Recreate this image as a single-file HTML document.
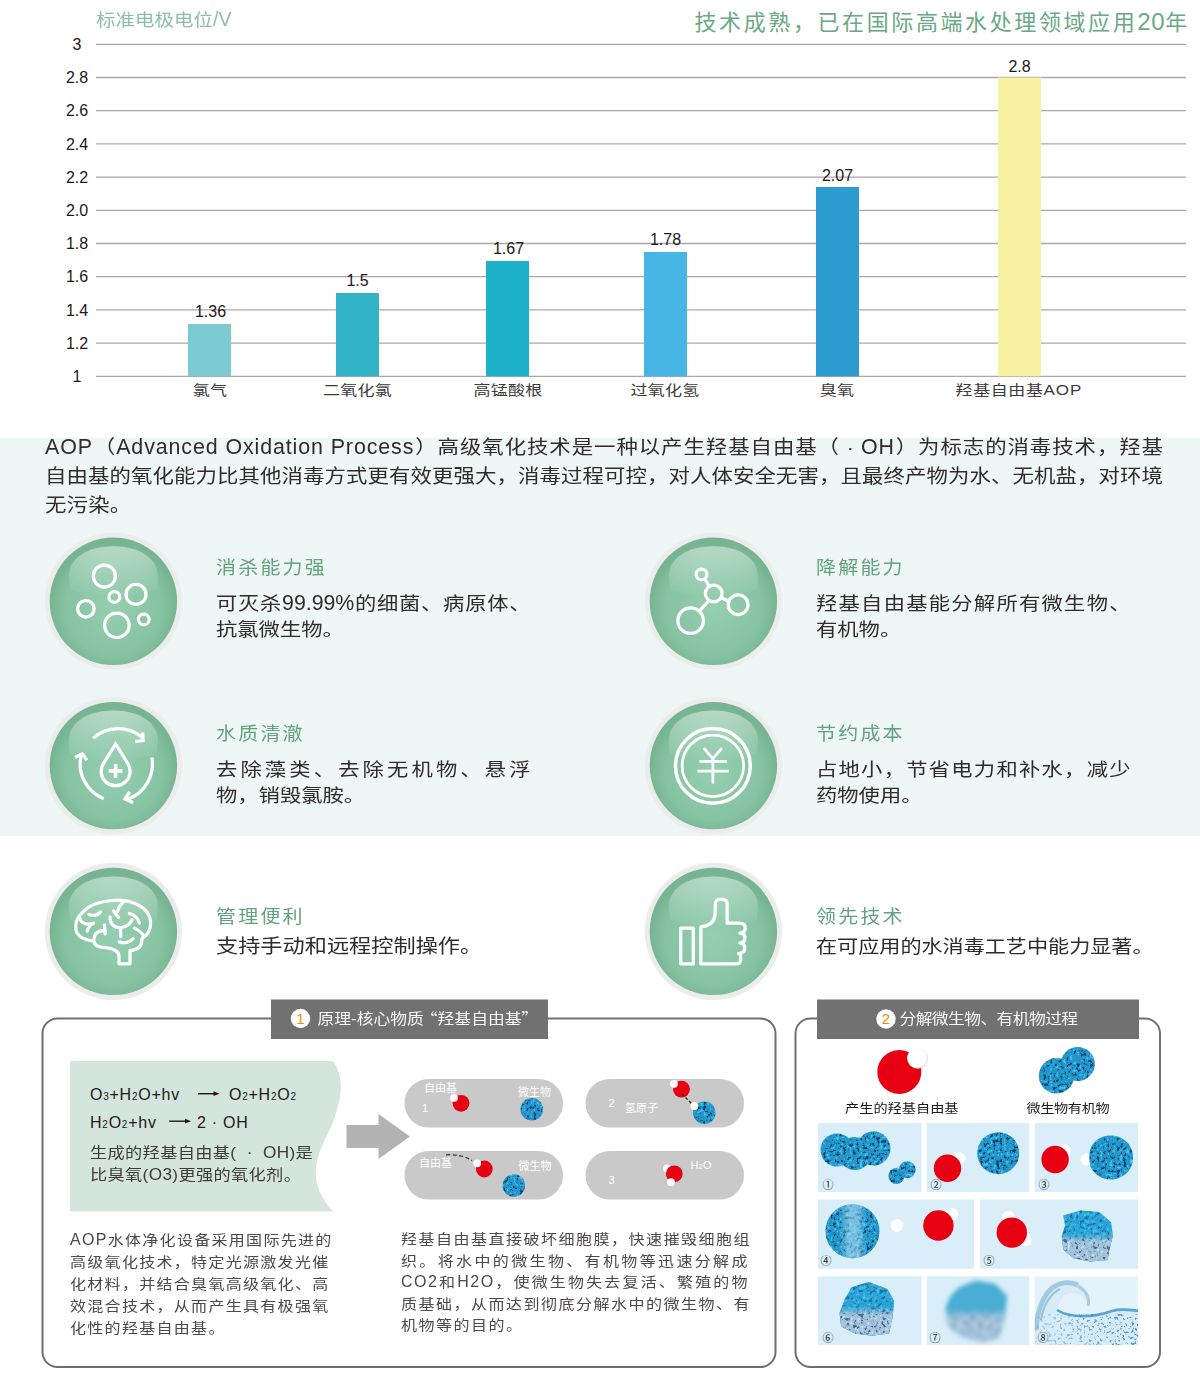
<!DOCTYPE html>
<html lang="zh-CN">
<head>
<meta charset="utf-8">
<title>AOP</title>
<style>
*{margin:0;padding:0;box-sizing:border-box}
html,body{width:1200px;height:1383px;overflow:hidden;background:#fff}
body{position:relative;font-family:"Liberation Sans","Noto Sans CJK SC",sans-serif;color:#3e3a39}
.abs{position:absolute}
.sq{position:absolute;transform:scaleY(0.88);transform-origin:0 0;white-space:nowrap}
.u{display:inline-block;line-height:1em;transform:scaleY(1.1364);transform-origin:0 0.8465em}
.j{text-align:justify;text-align-last:justify}
.l{text-align:left;text-align-last:left}
.band{position:absolute;left:0;top:438px;width:1200px;height:398px;background:#eef7f5}
.para{left:45px;width:1118px;font-size:21.4px;line-height:32.955px;color:#302c2b}
.para div{text-align:justify;text-align-last:justify}
.para div.l{text-align-last:left;letter-spacing:0.2px}
.para .u{letter-spacing:0.9px}
.ttl{font-size:20px;line-height:24px;color:#62a27f;letter-spacing:2.2px;transform:scaleY(0.92)}
.fb{line-height:28.977px;color:#302c2b}
.cq{font-family:'Noto Sans CJK SC',sans-serif}
.tab{font-size:16.8px;line-height:20px;color:#f7f7f7}
.num{position:absolute;font-size:15px;line-height:16px;color:#f08c00;text-align:center;width:20px}
.eq{position:absolute;font-size:16px;line-height:20px;color:#231815;white-space:nowrap;letter-spacing:0.75px}
.eq sub{font-size:10px;vertical-align:baseline}
.cn{font-size:17.2px;line-height:24.659px;color:#3e3a39;letter-spacing:0.35px}
.p1{font-size:16px;line-height:25.000px;color:#4c4948;letter-spacing:1.3px}
.p2{font-size:16px;line-height:24.545px;color:#4c4948;letter-spacing:1.5px}
.p1 div,.p2 div{text-align:justify;text-align-last:justify}
.p1 div.l,.p2 div.l{text-align-last:left}
.pl{position:absolute;font-size:11px;line-height:12px;color:#fff;white-space:nowrap}
.lbl{font-size:14.2px;line-height:16px;color:#1e1a19}
.tn{position:absolute;font-size:11px;line-height:11px;color:#222;font-family:"Noto Sans CJK SC",sans-serif}
</style>
</head>
<body>

<svg class="abs" style="left:0;top:0" width="1200" height="420" viewBox="0 0 1200 420">
<g stroke="#a9a9a9" stroke-width="1.3"><line x1="96" x2="1186" y1="44.3" y2="44.3"/><line x1="96" x2="1186" y1="77.5" y2="77.5"/><line x1="96" x2="1186" y1="110.7" y2="110.7"/><line x1="96" x2="1186" y1="143.9" y2="143.9"/><line x1="96" x2="1186" y1="177.1" y2="177.1"/><line x1="96" x2="1186" y1="210.3" y2="210.3"/><line x1="96" x2="1186" y1="243.5" y2="243.5"/><line x1="96" x2="1186" y1="276.7" y2="276.7"/><line x1="96" x2="1186" y1="309.9" y2="309.9"/><line x1="96" x2="1186" y1="343.1" y2="343.1"/><line x1="96" x2="1186" y1="376.3" y2="376.3"/></g>
<g font-family="Liberation Sans, sans-serif" font-size="16" fill="#231815" text-anchor="middle"><text x="77" y="49.9">3</text><text x="77" y="83.1">2.8</text><text x="77" y="116.3">2.6</text><text x="77" y="149.5">2.4</text><text x="77" y="182.7">2.2</text><text x="77" y="215.9">2.0</text><text x="77" y="249.1">1.8</text><text x="77" y="282.3">1.6</text><text x="77" y="315.5">1.4</text><text x="77" y="348.7">1.2</text><text x="77" y="381.9">1</text></g>
<rect x="188" y="324" width="43" height="52.3" fill="#7ccbd3"/><rect x="336" y="293" width="43" height="83.3" fill="#33b3c8"/><rect x="486" y="261" width="43" height="115.3" fill="#1cb0c9"/><rect x="644" y="252" width="43" height="124.3" fill="#48b6e4"/><rect x="816" y="187" width="43" height="189.3" fill="#2b9bd0"/><rect x="998" y="77.5" width="43" height="298.8" fill="#f8f1a4"/>
<g font-family="Liberation Sans, sans-serif" font-size="16" fill="#231815" text-anchor="middle"><text x="210.5" y="317">1.36</text><text x="357.5" y="286">1.5</text><text x="508.5" y="254">1.67</text><text x="665.5" y="245">1.78</text><text x="837.5" y="180.5">2.07</text><text x="1019.5" y="71.5">2.8</text></g>
<g font-family="Liberation Sans, Noto Sans CJK SC, sans-serif" font-size="17" letter-spacing="0.2" fill="#3e3a39" text-anchor="middle"><text transform="translate(210,395.2) scale(1,0.83)">氯气</text><text transform="translate(357.5,395.2) scale(1,0.83)">二氧化氯</text><text transform="translate(508,395.2) scale(1,0.83)">高锰酸根</text><text transform="translate(665,395.2) scale(1,0.83)">过氧化氢</text><text transform="translate(837,395.2) scale(1,0.83)">臭氧</text><text transform="translate(1019,395.2) scale(1,0.83)" letter-spacing="0.6">羟基自由基<tspan font-size="17" letter-spacing="1">AOP</tspan></text></g>
</svg>
<div class="sq" style="left:96px;top:9.5px;font-size:19.5px;line-height:22px;letter-spacing:0px;color:#8cc0a5">标准电极电位<span class="u">/V</span></div>
<div class="abs" style="left:694.5px;top:9px;font-size:22px;line-height:26px;letter-spacing:2.6px;color:#6aa985;white-space:nowrap">技术成熟，已在国际高端水处理领域应用<span style="font-size:24px;letter-spacing:0.6px">20</span>年</div>


<div class="band"></div>
<div class="sq para" style="top:434px">
<div><span class="u">AOP</span>（<span class="u">Advanced Oxidation Process</span>）高级氧化技术是一种以产生羟基自由基（ · <span class="u">OH</span>）为标志的消毒技术，羟基</div>
<div>自由基的氧化能力比其他消毒方式更有效更强大，消毒过程可控，对人体安全无害，且最终产物为水、无机盐，对环境</div>
<div class="l">无污染。</div>
</div>

<div class="sq ttl" style="left:216px;top:556.5px">消杀能力强</div>
<div class="sq fb" style="left:216px;top:591.7px;width:314.5px;font-size:21.3px"><div class="j">可灭杀<span class="u">99.99%</span>的细菌、病原体、</div><div class="l">抗氯微生物。</div></div>
<div class="sq ttl" style="left:816px;top:556.5px">降解能力</div>
<div class="sq fb" style="left:816px;top:591.7px;width:314.5px;font-size:21.3px"><div class="j">羟基自由基能分解所有微生物、</div><div class="l">有机物。</div></div>
<div class="sq ttl" style="left:216px;top:722.8px">水质清澈</div>
<div class="sq fb" style="left:216px;top:758px;width:314.5px;font-size:21.3px"><div class="j">去除藻类、去除无机物、悬浮</div><div class="l">物，销毁氯胺。</div></div>
<div class="sq ttl" style="left:816px;top:722.8px">节约成本</div>
<div class="sq fb" style="left:816px;top:758px;width:314.5px;font-size:21.3px"><div class="j">占地小，节省电力和补水，减少</div><div class="l">药物使用。</div></div>
<div class="sq ttl" style="left:216px;top:905.5px">管理便利</div>
<div class="sq fb" style="left:216px;top:935px;width:400px;font-size:22.2px"><div class="l">支持手动和远程控制操作。</div></div>
<div class="sq ttl" style="left:816px;top:905.5px">领先技术</div>
<div class="sq fb" style="left:816px;top:935px;width:400px;font-size:21.1px"><div class="l">在可应用的水消毒工艺中能力显著。</div></div>

<!-- ICONS -->
<svg class="abs" style="left:0;top:0" width="1200" height="1383" viewBox="0 0 1200 1383">
<defs>
<radialGradient id="disc" cx="0.5" cy="0.55" r="0.5">
<stop offset="0" stop-color="#95cfb1"/>
<stop offset="0.75" stop-color="#86c3a2"/>
<stop offset="1" stop-color="#77b592"/>
</radialGradient>
<linearGradient id="gloss" x1="0" y1="0" x2="0" y2="1">
<stop offset="0" stop-color="#fff" stop-opacity="0.45"/>
<stop offset="0.6" stop-color="#fff" stop-opacity="0.17"/>
<stop offset="1" stop-color="#fff" stop-opacity="0.02"/>
</linearGradient>
<g id="ball">
<circle cx="0" cy="0" r="68.6" fill="#ececec"/>
<circle cx="0" cy="0" r="63.7" fill="url(#disc)"/>
<path d="M-44.5 -24 C-45 -43 -26 -55 0 -55 C26 -55 45 -43 44.5 -24 L43.5 -12 C30 -4 -30 -4 -43.5 -12 Z" fill="url(#gloss)"/>
</g>
</defs>
<use href="#ball" x="113.4" y="601.3"/>
<use href="#ball" x="713.4" y="601.3"/>
<use href="#ball" x="113.4" y="765.6"/>
<use href="#ball" x="713.4" y="765.6"/>
<use href="#ball" x="113.4" y="931.4"/>
<use href="#ball" x="713.4" y="931.4"/>
<g fill="none" stroke="#fff" stroke-width="26" stroke-linecap="butt" stroke-linejoin="miter">
<!-- bubbles -->
<g transform="translate(40,530) scale(0.125)">
<circle cx="515" cy="368" r="88"/>
<circle cx="595" cy="535" r="43"/>
<circle cx="768" cy="515" r="80"/>
<circle cx="367" cy="630" r="66"/>
<circle cx="615" cy="762" r="98"/>
<circle cx="830" cy="715" r="43"/>
</g>
<!-- molecule -->
<g transform="translate(640,530) scale(0.125)">
<circle cx="492" cy="355" r="43"/>
<circle cx="590" cy="508" r="67"/>
<circle cx="785" cy="597" r="79"/>
<circle cx="405" cy="725" r="102"/>
<path d="M520 392 L552 450 M650 540 L708 570 M545 572 L478 645"/>
</g>
<!-- water -->
<g transform="translate(40,695) scale(0.125)">
<path d="M425 345 A300 300 0 0 1 820 340"/>
<path d="M760 372 L825 365 L822 300"/>
<path d="M895 500 A300 300 0 0 1 700 835"/>
<path d="M745 862 L680 830 L718 775"/>
<path d="M510 830 A300 300 0 0 1 330 480"/>
<path d="M280 500 L338 470 L375 522"/>
<path d="M605 392 L507 549 A115.5 115.5 0 1 0 703 549 Z"/>
<path d="M550 607 L660 607 M605 552 L605 662" stroke-width="28"/>
</g>
<!-- yen -->
<g transform="translate(640,695) scale(0.125)">
<circle cx="583" cy="567" r="299" stroke-width="28"/>
<circle cx="583" cy="566" r="246" stroke-width="22"/>
<path d="M510 425 L583 510 L655 425 M583 510 L583 708 M475 530 L695 530 M460 608 L710 608" stroke-width="22"/>
</g>
<!-- brain -->
<g transform="translate(40,860) scale(0.125)" stroke-linecap="round" stroke-linejoin="round">
<path d="M430 650 C360 640 300 615 288 560 C278 505 300 460 335 425 C380 370 470 330 600 322 C720 318 820 360 865 430 C895 480 890 560 850 600 C830 620 815 610 815 640 C815 690 780 720 720 725 L720 830 L632 830 L632 770 C632 735 590 705 520 700 C460 698 435 680 432 650 C430 600 455 570 495 565 C520 565 525 580 520 590"/>
<path d="M515 520 L522 570"/>
<path d="M320 470 C330 500 360 520 410 510"/>
<path d="M378 568 C385 540 400 520 428 505"/>
<path d="M392 435 C420 450 460 445 485 415"/>
<path d="M588 408 L628 460"/>
<path d="M560 455 C560 520 600 545 650 540 C700 535 730 505 735 475"/>
<path d="M665 340 C640 360 625 385 622 410"/>
<path d="M715 428 C760 440 785 470 795 505"/>
<path d="M645 548 L645 612"/>
<path d="M635 655 C670 668 720 660 745 630"/>
<path d="M755 545 C790 560 815 585 835 612"/>
</g>
<!-- thumb -->
<g transform="translate(640,860) scale(0.125)" stroke-linejoin="round">
<rect x="326" y="544" width="100" height="287"/>
<path d="M487 535 L487 830 L770 830 Q805 830 805 795 L805 772 Q805 752 788 748 Q838 742 838 706 Q838 668 798 664 Q840 660 840 624 Q840 588 798 585 Q842 580 842 543 Q842 505 795 505 L697 505 L697 350 Q697 312 650 312 Q605 312 603 350 L600 440 Q590 525 487 535 Z"/>
</g>
</g>
</svg>
<!-- BOTTOM BOXES -->
<svg class="abs" style="left:0;top:0" width="1200" height="1383" viewBox="0 0 1200 1383">
<defs>
<filter id="foamf" x="0" y="0" width="100%" height="100%" color-interpolation-filters="sRGB">
<feTurbulence type="fractalNoise" baseFrequency="0.3" numOctaves="3" seed="4" result="n"/>
<feColorMatrix in="n" type="matrix" values="0 0 0 0 0  0 0 0 0 0  0 0 0 0 0  -7 0 0 0 3.05" result="a"/>
<feFlood flood-color="#0b4170"/>
<feComposite in2="a" operator="in" result="dark"/>
<feColorMatrix in="n" type="matrix" values="0 0 0 0 0  0 0 0 0 0  0 0 0 0 0  8 0 0 0 -4.8" result="b"/>
<feFlood flood-color="#45c3ef"/>
<feComposite in2="b" operator="in" result="light"/>
<feMerge><feMergeNode in="dark"/><feMergeNode in="light"/></feMerge>
</filter>
<filter id="foamg" x="0" y="0" width="100%" height="100%" color-interpolation-filters="sRGB">
<feTurbulence type="fractalNoise" baseFrequency="0.28" numOctaves="3" seed="9" result="n"/>
<feColorMatrix in="n" type="matrix" values="0 0 0 0 0  0 0 0 0 0  0 0 0 0 0  -7 0 0 0 2.95" result="a"/>
<feFlood flood-color="#55608c"/>
<feComposite in2="a" operator="in" result="dark"/>
<feColorMatrix in="n" type="matrix" values="0 0 0 0 0  0 0 0 0 0  0 0 0 0 0  7 0 0 0 -4.3" result="b"/>
<feFlood flood-color="#cfe4f1"/>
<feComposite in2="b" operator="in" result="light"/>
<feMerge><feMergeNode in="dark"/><feMergeNode in="light"/></feMerge>
</filter>
<filter id="speck" x="0" y="0" width="100%" height="100%" color-interpolation-filters="sRGB">
<feTurbulence type="fractalNoise" baseFrequency="0.35" numOctaves="2" seed="21" result="n"/>
<feColorMatrix in="n" type="matrix" values="0 0 0 0 0  0 0 0 0 0  0 0 0 0 0  -7 0 0 0 3.05" result="a"/>
<feFlood flood-color="#3a8fd2"/>
<feComposite in2="a" operator="in"/>
</filter>
<pattern id="foam" patternUnits="userSpaceOnUse" width="200" height="200">
<rect width="200" height="200" fill="#2396ca"/>
<rect width="200" height="200" filter="url(#foamf)"/>
</pattern>
<pattern id="foamG" patternUnits="userSpaceOnUse" width="200" height="200">
<rect width="200" height="200" fill="#9fc3da"/>
<rect width="200" height="200" filter="url(#foamg)"/>
</pattern>
<pattern id="spk" patternUnits="userSpaceOnUse" width="200" height="200">
<rect width="200" height="200" filter="url(#speck)"/>
</pattern>
<linearGradient id="fadeV" x1="0" y1="0" x2="0" y2="1">
<stop offset="0.45" stop-color="#fff" stop-opacity="0"/>
<stop offset="0.62" stop-color="#fff" stop-opacity="1"/>
</linearGradient>
<linearGradient id="bandH" x1="0" y1="0" x2="1" y2="0">
<stop offset="0.25" stop-color="#bfe9f8" stop-opacity="0"/>
<stop offset="0.45" stop-color="#bfe9f8" stop-opacity="0.55"/>
<stop offset="0.6" stop-color="#bfe9f8" stop-opacity="0.5"/>
<stop offset="0.75" stop-color="#bfe9f8" stop-opacity="0"/>
</linearGradient>
<path id="blob5" d="M1063.3 1215.5 L1080.4 1210.4 L1099.2 1212.1 L1111.1 1222.3 L1112.9 1236 L1109.4 1249.7 L1107.7 1259.9 L1090.6 1261.6 L1073.6 1258.2 L1063.3 1249.7 L1061.6 1236 L1065 1225.7 Z" stroke-linejoin="round"/>
<path id="blob6" d="M851.5 1287.2 L868.6 1282.1 L887.4 1288.9 L894.2 1300.9 L892.5 1318 L889.1 1333.4 L872 1335.7 L854.9 1333.4 L841.2 1326.5 L839.5 1312.9 L844.7 1299.2 Z"/>
<path id="blob7" d="M959.1 1287.2 L976.2 1280.4 L995 1283.8 L1007 1295.8 L1005.2 1318 L998.4 1338.5 L981.3 1341.9 L960.8 1336.8 L947.2 1324.8 L945.4 1307.7 L950.6 1295.8 Z"/>
<mask id="m5"><use href="#blob5" fill="url(#fadeV)"/></mask>
<mask id="m6"><use href="#blob6" fill="url(#fadeV)"/></mask>
<mask id="m7"><use href="#blob7" fill="url(#fadeV)"/></mask>
<clipPath id="c4"><circle cx="852.5" cy="1231.2" r="27"/></clipPath>
<clipPath id="c8"><rect x="1034.7" y="1276.3" width="103.3" height="68.7"/></clipPath>
<linearGradient id="g8" x1="0" y1="0" x2="1" y2="0"><stop offset="0" stop-color="#fff" stop-opacity="0.25"/><stop offset="0.45" stop-color="#fff" stop-opacity="0.7"/><stop offset="1" stop-color="#fff" stop-opacity="1"/></linearGradient>
<mask id="m8"><rect x="1034" y="1314" width="106" height="32" fill="url(#g8)"/></mask>
<filter id="blur7" x="-20%" y="-20%" width="140%" height="140%"><feGaussianBlur stdDeviation="2.2"/></filter>
</defs>
<!-- box outlines -->
<rect x="42.5" y="1018.5" width="733" height="348.5" rx="15" fill="none" stroke="#6f6f6f" stroke-width="2"/>
<rect x="795.5" y="1018.5" width="364.5" height="348.5" rx="15" fill="none" stroke="#6f6f6f" stroke-width="2"/>
<!-- tabs -->
<rect x="271" y="999.5" width="277" height="39.5" fill="#717171"/>
<rect x="817" y="999.5" width="322" height="39.5" fill="#717171"/>
<circle cx="300.5" cy="1018.5" r="9.7" fill="#fff"/>
<circle cx="886" cy="1019" r="9.7" fill="#fff"/>
<!-- green panel -->
<path d="M70 1061 L333 1061 C345 1078 342 1098 332 1125 C320 1150 302 1178 333 1211.5 L70 1211.5 Z" fill="#d3e5dd"/>
<!-- arrow -->
<path d="M346.5 1125 L378.5 1125 L378.5 1114 L410 1136.5 L378.5 1159 L378.5 1148 L346.5 1148 Z" fill="#b3b3b3"/>
<!-- pills -->
<g fill="#c9c9c9">
<rect x="404.5" y="1079" width="158.5" height="48.5" rx="24.25"/>
<rect x="585.5" y="1079" width="158.5" height="48.5" rx="24.25"/>
<rect x="404.5" y="1151" width="158.5" height="48.5" rx="24.25"/>
<rect x="585.5" y="1151" width="158.5" height="48.5" rx="24.25"/>
</g>
<!-- pill 1 -->
<circle cx="461" cy="1103.3" r="8.4" fill="#e60012"/>
<circle cx="454" cy="1097.8" r="3.9" fill="#fff"/>
<circle cx="531.8" cy="1109.3" r="11.3" fill="url(#foam)"/>
<!-- pill 3 -->
<path d="M446 1154.8 Q462 1154 472 1160.5" fill="none" stroke="#333" stroke-width="1.3" stroke-dasharray="4 2.5"/>
<circle cx="484.3" cy="1169" r="8.4" fill="#e60012"/>
<circle cx="477.2" cy="1163.3" r="3.9" fill="#fff"/>
<circle cx="513.8" cy="1185.5" r="11.3" fill="url(#foam)"/>
<!-- pill 2 -->
<circle cx="681.5" cy="1089.2" r="8.4" fill="#e60012"/>
<circle cx="674" cy="1083.8" r="3.9" fill="#fff"/>
<path d="M682 1094 L692 1104" fill="none" stroke="#222" stroke-width="1.3" stroke-dasharray="3 2"/>
<circle cx="704.3" cy="1112.8" r="11.3" fill="url(#foam)"/>
<circle cx="694.3" cy="1106" r="3.9" fill="#fff"/>
<!-- pill 4 -->
<circle cx="666.8" cy="1168.3" r="3.9" fill="#fff"/>
<circle cx="674.3" cy="1173.8" r="8.4" fill="#e60012"/>
<circle cx="671" cy="1182.2" r="3.9" fill="#fff"/>

<!-- box2 top figures -->
<circle cx="899.3" cy="1072" r="22" fill="#e60012"/>
<circle cx="917.6" cy="1058.5" r="10.2" fill="#d8d8d8"/>
<circle cx="917.1" cy="1058" r="10" fill="#fff"/>
<circle cx="1077.8" cy="1064" r="17" fill="url(#foam)"/>
<circle cx="1056.5" cy="1075.8" r="17.7" fill="url(#foam)"/>
<!-- tiles -->
<g fill="#d9eef9">
<rect x="818" y="1123" width="103.5" height="69"/>
<rect x="926.7" y="1123" width="102.5" height="69"/>
<rect x="1034.7" y="1123" width="103.3" height="69"/>
<rect x="818" y="1199.5" width="156" height="69.3"/>
<rect x="980" y="1199.5" width="158" height="69.3"/>
<rect x="818" y="1276.3" width="103.5" height="68.7"/>
<rect x="926.7" y="1276.3" width="102.5" height="68.7"/>
<rect x="1034.7" y="1276.3" width="103.3" height="68.7" fill="#e4f2fb"/>
</g>
<!-- tile1 -->
<circle cx="837" cy="1150" r="16.5" fill="url(#foam)"/>
<circle cx="873.5" cy="1148.5" r="17" fill="url(#foam)"/>
<circle cx="855" cy="1153.5" r="16.5" fill="url(#foam)"/>
<circle cx="907.2" cy="1169.7" r="8.5" fill="url(#foam)"/>
<circle cx="896.4" cy="1176" r="8" fill="url(#foam)"/>
<!-- tile2 -->
<circle cx="959.6" cy="1158.3" r="6" fill="#fff"/>
<circle cx="947.5" cy="1168.3" r="13.7" fill="#e60012"/>
<circle cx="998.2" cy="1153.2" r="21" fill="url(#foam)"/>
<!-- tile3 -->
<circle cx="1065" cy="1150.4" r="6" fill="#fff"/>
<circle cx="1055.1" cy="1159.5" r="13.7" fill="#e60012"/>
<circle cx="1086.3" cy="1159.5" r="6" fill="#fff"/>
<path d="M1090 1150 C1093 1140 1102 1135.5 1111 1135.5 C1123 1135.5 1133 1145 1133 1157.5 C1133 1170 1123 1179.5 1111 1179.5 C1100 1179.5 1092 1172 1090 1165 C1089 1160 1089 1155 1090 1150 Z" fill="url(#foam)"/>
<!-- tile4 -->
<circle cx="852.5" cy="1231.2" r="27" fill="url(#foam)"/>
<rect x="825" y="1204" width="55" height="55" fill="url(#bandH)" clip-path="url(#c4)"/>
<circle cx="897" cy="1225.5" r="6.3" fill="#fff"/>
<circle cx="951.7" cy="1214.2" r="6.3" fill="#fff"/>
<circle cx="938.4" cy="1225.5" r="15.2" fill="#e60012"/>
<!-- tile5 -->
<circle cx="1008.4" cy="1217" r="6.3" fill="#fff"/>
<circle cx="1025.4" cy="1239.7" r="6.3" fill="#fff"/>
<circle cx="1011.8" cy="1232.6" r="15.2" fill="#e60012"/>
<use href="#blob5" fill="url(#foam)"/>
<use href="#blob5" fill="#3cc3f0" opacity="0.35"/>
<use href="#blob5" fill="url(#foamG)" mask="url(#m5)"/>
<!-- tile6 -->
<use href="#blob6" fill="url(#foam)"/>
<use href="#blob6" fill="#3cc3f0" opacity="0.35"/>
<use href="#blob6" fill="url(#foamG)" mask="url(#m6)"/>
<!-- tile7 -->
<g filter="url(#blur7)" opacity="0.9">
<use href="#blob7" fill="#3aa6cf"/>
<use href="#blob7" fill="url(#foamG)" mask="url(#m7)"/>
</g>
<!-- tile8 water -->
<g clip-path="url(#c8)">
<path d="M1034 1335 C1035 1315 1040 1298 1050 1288 C1059 1280 1072 1278 1080 1284 C1087 1289 1092 1298 1089 1306 C1085 1299 1080 1293 1071 1293 C1062 1294 1058 1302 1058 1309 C1064 1316 1076 1318 1088 1317 C1100 1316 1106 1311 1114 1310 C1124 1309 1131 1311 1139 1311 L1139 1346 L1034 1346 Z" fill="#d8ecf7"/>
<path d="M1036 1330 C1037 1312 1042 1298 1051 1289 C1059 1282 1070 1281 1078 1285" fill="none" stroke="#8fbddb" stroke-width="5" opacity="0.75"/>
<path d="M1041 1320 C1043 1306 1050 1294 1060 1289" fill="none" stroke="#6fa6cc" stroke-width="2" opacity="0.6"/>
<path d="M1078 1286 C1086 1291 1090 1298 1088 1306" fill="none" stroke="#9cc6e2" stroke-width="3" opacity="0.8"/>
<path d="M1057 1310 C1070 1318 1092 1318 1112 1311 C1122 1308 1130 1310 1139 1311" fill="none" stroke="#5aa3d6" stroke-width="2.6"/>
<rect x="1034" y="1314" width="106" height="32" fill="url(#spk)" mask="url(#m8)"/>
</g>
</svg>


<div class="num" style="left:290.5px;top:1010.5px">1</div>
<div class="sq tab" style="left:317.5px;top:1009px">原理-核心物质<span class="cq" style="margin-left:-3px">“</span>羟基自由基<span class="cq" style="margin-right:-8px">”</span></div>
<div class="num" style="left:876px;top:1011px">2</div>
<div class="sq tab" style="left:899.5px;top:1010.5px;letter-spacing:-0.6px">分解微生物、有机物过程</div>

<div class="eq" style="left:90px;top:1085px">O<sub>3</sub>+H<sub>2</sub>O+hv</div>
<svg class="abs" style="left:0;top:1080px" width="260" height="50" viewBox="0 1080 260 50"><g fill="#231815" stroke="#231815"><line x1="198" y1="1093.7" x2="215" y2="1093.7" stroke-width="1.4"/><path d="M213.5 1091.3 L219.5 1093.7 L213.5 1096.1 Z" stroke="none"/><line x1="169.2" y1="1121.2" x2="186.5" y2="1121.2" stroke-width="1.4"/><path d="M185 1118.8 L191 1121.2 L185 1123.6 Z" stroke="none"/></g></svg>
<div class="eq" style="left:229px;top:1085px">O<sub>2</sub>+H<sub>2</sub>O<sub>2</sub></div>
<div class="eq" style="left:90px;top:1112.5px">H<sub>2</sub>O<sub>2</sub>+hv</div>
<div class="eq" style="left:197px;top:1112.5px">2 · OH</div>
<div class="sq cn" style="left:90px;top:1142px">生成的羟基自由基(<span class="u">&nbsp;&nbsp;·&nbsp;&nbsp;OH</span>)是<br>比臭氧(<span class="u">O3</span>)更强的氧化剂。</div>

<div class="sq p1" style="left:70px;top:1229px;width:257px">
<div><span class="u">AOP</span>水体净化设备采用国际先进的</div>
<div>高级氧化技术，特定光源激发光催</div>
<div>化材料，并结合臭氧高级氧化、高</div>
<div>效混合技术，从而产生具有极强氧</div>
<div class="l">化性的羟基自由基。</div>
</div>
<div class="sq p2" style="left:401px;top:1228.5px;width:348px">
<div>羟基自由基直接破坏细胞膜，快速摧毁细胞组</div>
<div>织。将水中的微生物、有机物等迅速分解成</div>
<div><span class="u">CO2</span>和<span class="u">H2O</span>，使微生物失去复活、繁殖的物</div>
<div>质基础，从而达到彻底分解水中的微生物、有</div>
<div class="l">机物等的目的。</div>
</div>

<div class="pl" style="left:424px;top:1081.5px">自由基</div>
<div class="pl" style="left:422px;top:1102px">1</div>
<div class="pl" style="left:518px;top:1085.5px">微生物</div>
<div class="pl" style="left:419px;top:1156.5px">自由基</div>
<div class="pl" style="left:518.5px;top:1160px">微生物</div>
<div class="pl" style="left:608.5px;top:1096.5px">2</div>
<div class="pl" style="left:625px;top:1102px">氢原子</div>
<div class="pl" style="left:608.5px;top:1174px">3</div>
<div class="pl" style="left:690.5px;top:1159px">H<span style="font-size:8px">2</span>O</div>

<div class="sq lbl" style="left:845px;top:1102px">产生的羟基自由基</div>
<div class="sq lbl" style="left:1026.5px;top:1102px;letter-spacing:-0.4px">微生物有机物</div>

<div class="tn" style="left:822.5px;top:1179px">①</div>
<div class="tn" style="left:930.5px;top:1179px">②</div>
<div class="tn" style="left:1038.5px;top:1179px">③</div>
<div class="tn" style="left:820.5px;top:1255px">④</div>
<div class="tn" style="left:983.5px;top:1255px">⑤</div>
<div class="tn" style="left:822.5px;top:1332px">⑥</div>
<div class="tn" style="left:929.5px;top:1332px">⑦</div>
<div class="tn" style="left:1037.5px;top:1332px">⑧</div>

</body>
</html>
